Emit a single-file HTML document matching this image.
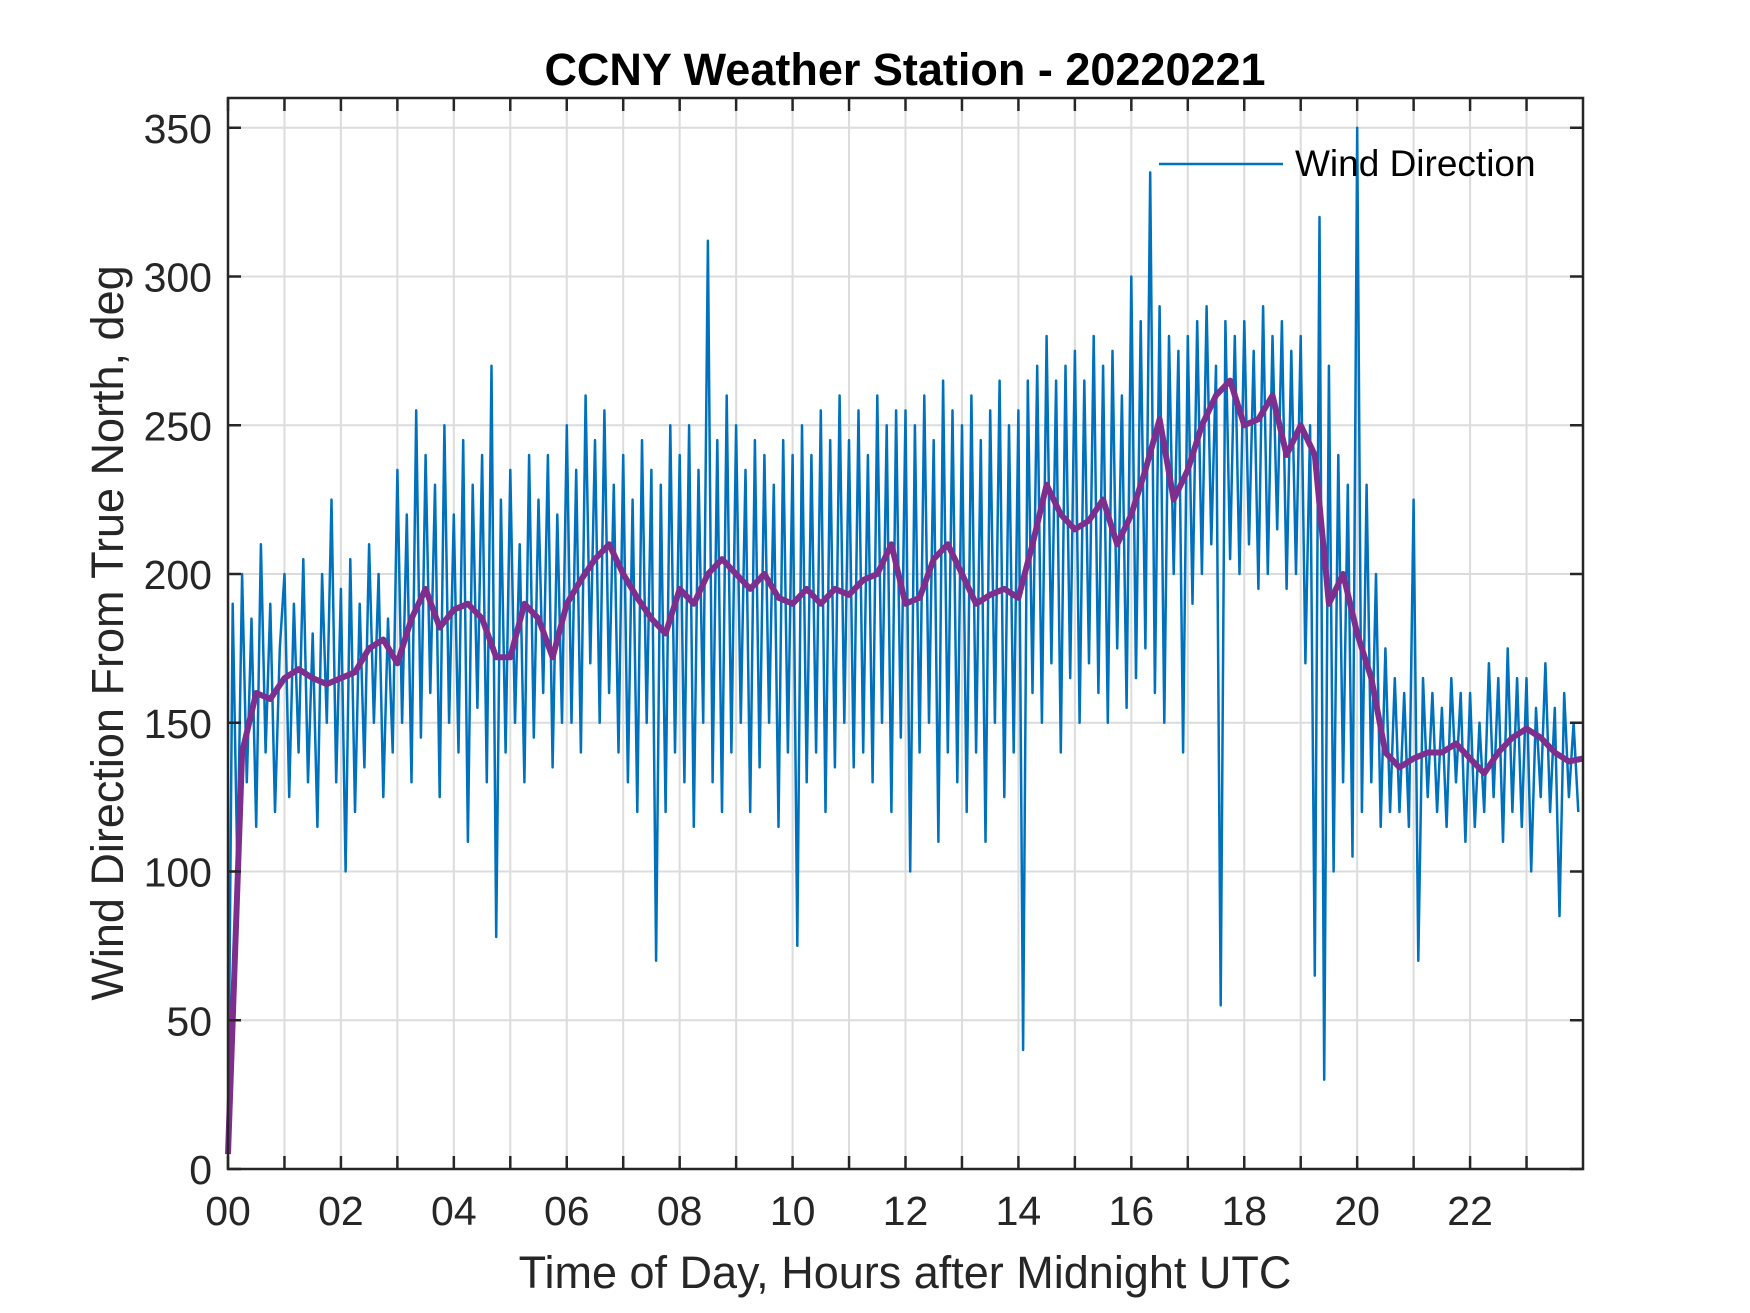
<!DOCTYPE html>
<html><head><meta charset="utf-8"><style>
html,body{margin:0;padding:0;background:#fff;}
svg{display:block;font-family:"Liberation Sans",Arial,sans-serif;}
</style></head><body>
<svg id="chart" width="1750" height="1313" viewBox="0 0 1750 1313" xmlns="http://www.w3.org/2000/svg">
<rect width="1750" height="1313" fill="#fff"/>
<g id="grid"></g>
<g id="series"></g>
<g id="axes"></g>
<text x="905" y="85" text-anchor="middle" font-size="45" font-weight="bold" fill="#000">CCNY Weather Station - 20220221</text>
<text x="905" y="1288" text-anchor="middle" font-size="45" fill="#262626">Time of Day, Hours after Midnight UTC</text>
<text transform="translate(123,633) rotate(-90)" text-anchor="middle" font-size="45" fill="#262626">Wind Direction From True North, deg</text>
<g>
<line x1="1159" y1="164" x2="1283" y2="164" stroke="#0072BD" stroke-width="2.5"/>
<text x="1295" y="176" font-size="37" fill="#000">Wind Direction</text>
</g>
</svg>
<script>
const xTickHours = [0,1,2,3,4,5,6,7,8,9,10,11,12,13,14,15,16,17,18,19,20,21,22,23];
const xTickLabels = ["00","02","04","06","08","10","12","14","16","18","20","22"];
const yTicks = [0,50,100,150,200,250,300,350];
// Wind direction, 5-minute samples (deg)
const windDirection = [
5,190,100,200,130,185,115,210,140,190,120,175,
200,125,190,140,205,130,180,115,200,150,225,130,
195,100,205,120,190,135,210,150,200,125,185,140,
235,150,220,130,255,145,240,160,230,125,250,150,
220,140,245,110,230,155,240,130,270,78,225,140,
235,150,210,130,240,145,225,160,240,135,220,150,
250,150,235,140,260,170,245,150,255,160,230,140,
240,130,225,120,245,150,235,70,230,120,250,140,
240,130,250,115,235,150,312,130,245,120,260,140,
250,150,235,120,245,135,240,150,230,115,245,140,
240,75,250,130,240,140,255,120,245,135,260,150,
245,135,255,140,240,130,260,150,250,120,255,145,
255,100,250,140,260,150,245,110,265,140,255,130,
250,120,260,140,245,110,255,150,265,125,250,140,
255,40,265,160,270,150,280,170,265,140,270,165,
275,150,265,170,280,160,270,150,275,175,260,155,
300,165,285,175,335,160,290,150,280,200,275,140,
280,190,285,200,290,210,270,55,285,205,280,200,
285,210,275,195,290,200,280,215,285,195,275,200,
280,170,250,65,320,30,270,100,240,130,230,105,
350,120,230,130,200,115,175,120,165,120,160,115,
225,70,165,125,160,120,155,115,165,130,160,110,
160,115,150,120,170,125,165,110,175,120,165,115,
165,100,155,125,170,120,155,85,160,125,150,120
];
// Running mean, 15-minute samples (deg)
const windMean = [
5,140,160,158,165,168,165,163,165,167,175,178,
170,185,195,182,188,190,185,172,172,190,185,172,
190,198,205,210,200,192,185,180,195,190,200,205,
200,195,200,192,190,195,190,195,193,198,200,210,
190,192,205,210,200,190,193,195,192,210,230,220,
215,218,225,210,220,235,252,225,235,250,260,265,
250,252,260,240,250,240,190,200,180,165,140,135,
138,140,140,143,138,133,140,145,148,145,140,137,138
];
const L=228,R=1583,T=98,B=1169,XMAX=24,YMAX=360;
const xs=h=>L+(R-L)*h/XMAX;
const ys=v=>B-(B-T)*v/YMAX;
const NS='http://www.w3.org/2000/svg';
function mk(tag,parent){const e=document.createElementNS(NS,tag);parent.appendChild(e);return e;}
const grid=document.getElementById('grid'),axes=document.getElementById('axes'),series=document.getElementById('series');
xTickHours.forEach(h=>{
 const x=xs(h);
 if(h>0){const g=mk('line',grid);
 
 
 g.setAttribute('x1',x);g.setAttribute('x2',x);g.setAttribute('y1',T);g.setAttribute('y2',B);g.setAttribute('stroke','#dcdcdc');g.setAttribute('stroke-width','2');}
 [[B,B-13],[T,T+13]].forEach(p=>{const t=mk('line',axes);
 
 
 t.setAttribute('x1',x);t.setAttribute('x2',x);t.setAttribute('y1',p[0]);t.setAttribute('y2',p[1]);t.setAttribute('stroke','#262626');t.setAttribute('stroke-width','2.5');});
});
xTickLabels.forEach((lab,i)=>{const t=mk('text',axes);
 
 
 t.setAttribute('x',xs(i*2));t.setAttribute('y',B+56);t.setAttribute('text-anchor','middle');t.setAttribute('font-size','41');t.setAttribute('fill','#262626');t.textContent=lab;});
yTicks.forEach(v=>{const y=ys(v);
 if(v>0){const g=mk('line',grid);
 
 
 g.setAttribute('x1',L);g.setAttribute('x2',R);g.setAttribute('y1',y);g.setAttribute('y2',y);g.setAttribute('stroke','#dcdcdc');g.setAttribute('stroke-width','2');}
 [[L,L+13],[R,R-13]].forEach(p=>{const t=mk('line',axes);
 
 
 t.setAttribute('x1',p[0]);t.setAttribute('x2',p[1]);t.setAttribute('y1',y);t.setAttribute('y2',y);t.setAttribute('stroke','#262626');t.setAttribute('stroke-width','2.5');});
 const l=mk('text',axes);
 
 
 l.setAttribute('x',L-16);l.setAttribute('y',y+15);l.setAttribute('text-anchor','end');l.setAttribute('font-size','41');l.setAttribute('fill','#262626');l.textContent=v;});
const box=mk('rect',axes);


box.setAttribute('x',L);box.setAttribute('y',T);box.setAttribute('width',R-L);box.setAttribute('height',B-T);box.setAttribute('fill','none');box.setAttribute('stroke','#262626');box.setAttribute('stroke-width','2.5');
function path(arr,step,color,w,name){
 const d=arr.map((v,i)=>(i?'L':'M')+xs(i*step).toFixed(1)+','+ys(v).toFixed(1)).join('');
 const p=mk('path',series);
 
 
 p.setAttribute('d',d);p.setAttribute('fill','none');p.setAttribute('stroke',color);p.setAttribute('stroke-width',w);p.setAttribute('stroke-linejoin','round');
}
path(windDirection,5/60,'#0072BD',2.5,'wind-direction-line');
path(windMean,0.25,'#7E2F8E',6,'wind-direction-mean-line');
</script>
</body></html>
